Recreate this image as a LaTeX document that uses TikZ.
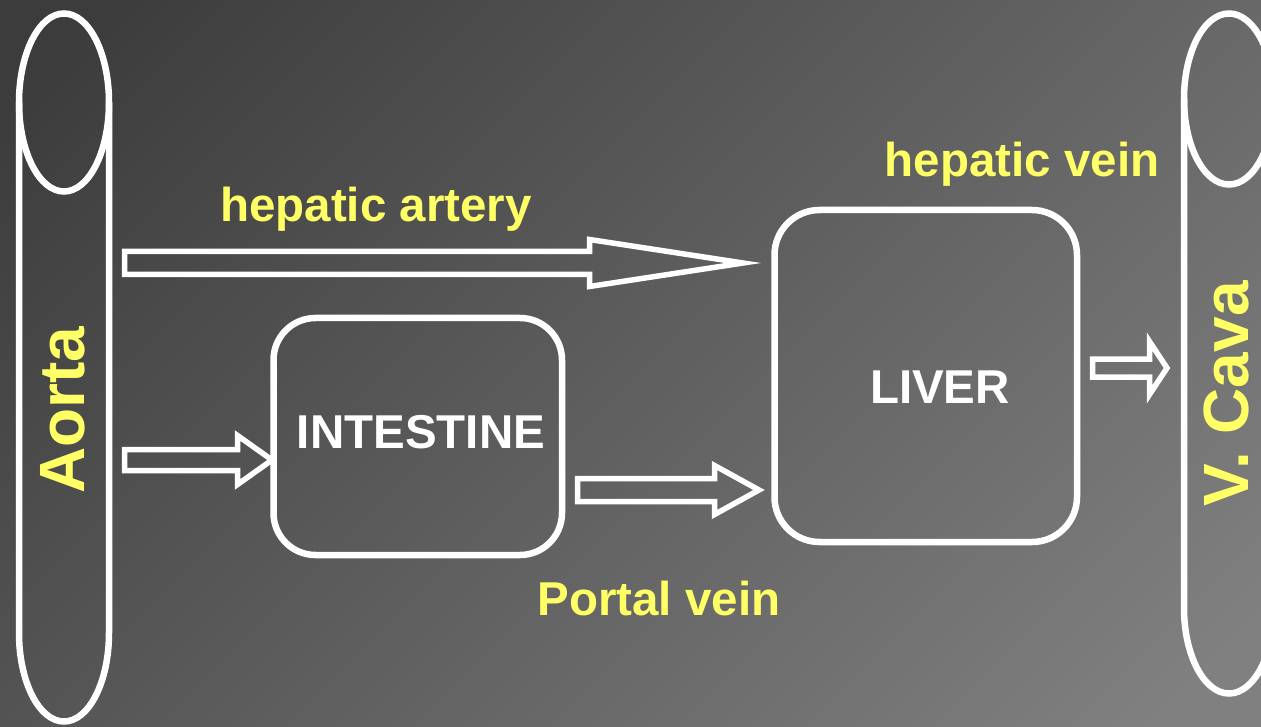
\documentclass[tikz,border=0pt]{standalone}
\usepackage{fontspec}
\setmainfont{Liberation Sans}
\definecolor{lblyellow}{RGB}{255,255,102}
\definecolor{bgA}{RGB}{60,60,60}
\definecolor{bgB}{RGB}{128,128,128}
\newcommand{\blockarr}[6]{%
  \draw[blockarrow] (#1,{#4-#5}) -- (#2,{#4-#5}) -- (#2,{#4-#6}) -- (#3,#4)
    -- (#2,{#4+#6}) -- (#2,{#4+#5}) -- (#1,{#4+#5}) -- cycle;}
\begin{document}
\begin{tikzpicture}[x=1pt,y=-1pt,
  outline/.style={draw=white, line width=6.5pt},
  blockarrow/.style={draw=white, line width=5.5pt, line join=miter},
  organ/.style={draw=white, line width=6.5pt, rounded corners=42pt, inner sep=0pt},
  ylabel/.style={text=lblyellow, inner sep=0pt, font=\fontsize{47.5}{57}\selectfont\bfseries},
  wlabel/.style={text=white, inner sep=0pt, font=\fontsize{47.5}{57}\selectfont\bfseries},
  vlabel/.style={text=lblyellow, inner sep=0pt, rotate=90, anchor=base, font=\fontsize{64}{76}\selectfont\bfseries}]
\useasboundingbox (0,0) rectangle (1261,727);
% background gradient
\begin{scope}
  \clip (0,0) rectangle (1261,727);
  \shade[top color=bgA, bottom color=bgB, shading angle=45] (0,-267) rectangle (1261,994);
\end{scope}
% Aorta
\draw[outline] (64,102.5) ellipse [x radius=45pt, y radius=89pt];
\draw[outline] (19,102.5) -- (19,633) arc[start angle=180, end angle=360, x radius=45pt, y radius=88.5pt] -- (109,102.5);
\node[vlabel] (taorta) at (84,410) {Aorta};
% V. Cava
\draw[outline] (1229,99) ellipse [x radius=45pt, y radius=85.5pt];
\draw[outline] (1184,99) -- (1184,608) arc[start angle=180, end angle=360, x radius=45pt, y radius=85.5pt] -- (1274,99);
\node[vlabel] (tcava) at (1248,394) {V. Cava};
% organs
\node[organ, minimum width=288.5pt, minimum height=237pt] (intestine) at (417.75,436.5) {};
\node[organ, minimum width=302.5pt, minimum height=332pt, rounded corners=45pt] (liver) at (925.75,376) {};
\node[wlabel, anchor=base] (tint) at (421,448) {INTESTINE};
\node[wlabel, anchor=base] (tliver) at (940,403) {LIVER};
% block arrows
\blockarr{124.5}{589.5}{743}{263}{11.5}{23.5}
\blockarr{124.5}{237.5}{272}{460}{10.5}{24.5}
\blockarr{577.5}{714.5}{759}{490}{11.5}{24.5}
\blockarr{1092.5}{1149.5}{1167}{368}{9}{26.5}
% labels
\node[ylabel, anchor=base] (tartery) at (376,222) {hepatic artery};
\node[ylabel, anchor=base] (tvein) at (1022,177) {hepatic vein};
\node[ylabel, anchor=base] (tportal) at (659,615) {Portal vein};
\end{tikzpicture}
\end{document}
